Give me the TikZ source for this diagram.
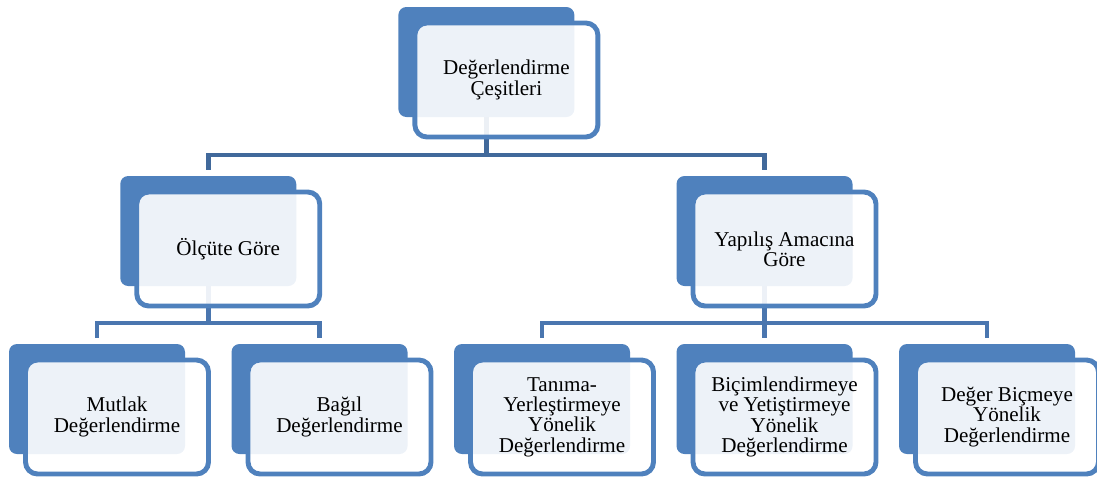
\documentclass[tikz,border=0pt]{standalone}
\usepackage{fontspec}
\setmainfont{Liberation Serif}
\usepackage{xcolor}
\usepackage{tikz}
\usetikzlibrary{positioning,calc,backgrounds}
\definecolor{degblue}{HTML}{4F81BD}
\definecolor{deglink}{HTML}{4A76AF}
\definecolor{deglinkdark}{HTML}{41699B}

\begin{document}
\begin{tikzpicture}[
    back/.style={rectangle, rounded corners=2mm, fill=degblue, minimum width=4.4cm, minimum height=2.75cm, inner sep=0pt, outer sep=0pt},
    front/.style={rectangle, rounded corners=3mm, draw=degblue, line width=3.5pt, fill=white, fill opacity=0.9, text opacity=1, minimum width=4.575cm, minimum height=2.85cm, align=center, inner sep=2pt, font=\fontsize{15}{14.5}\selectfont},
    link/.style={line width=3.5pt, draw=deglink},
    linktop/.style={line width=3.5pt, draw=deglinkdark}
]
    \useasboundingbox (0,0) rectangle (27.425,-11.975);

    % Bottom row (back plates)
    \node (mutlakB) [back] at (2.425,-9.975) {};
    \node (bagilB) [back, right=1.1625cm of mutlakB] {};
    \node (tanimaB) [back, right=1.1625cm of bagilB] {};
    \node (bicimB) [back, right=1.1625cm of tanimaB] {};
    \node (degerB) [back, right=1.1625cm of bicimB] {};

    % Middle row (back plates)
    \node (olcutB) [back, anchor=south] at ($(mutlakB.north)!0.5!(bagilB.north)+(0,1.45)$) {};
    \node (amacB) [back, above=1.45cm of bicimB] {};

    % Top (back plate)
    \node (cesitB) [back, anchor=south] at ($(olcutB.north)!0.5!(amacB.north)+(0,1.475)$) {};

    % Front frames with text
    \node (cesit) [front] at ($(cesitB)+(0.5,-0.45)$) {Değerlendirme\\Çeşitleri};
    \node (olcut) [front] at ($(olcutB)+(0.5,-0.45)$) {Ölçüte Göre};
    \node (amac) [front] at ($(amacB)+(0.5,-0.45)$) {Yapılış Amacına\\Göre};
    \node (mutlak) [front] at ($(mutlakB)+(0.5,-0.45)$) {Mutlak\\Değerlendirme};
    \node (bagil) [front] at ($(bagilB)+(0.5,-0.45)$) {Bağıl\\Değerlendirme};
    \node (tanima) [front] at ($(tanimaB)+(0.5,-0.45)$) {Tanıma-\\Yerleştirmeye\\Yönelik\\Değerlendirme};
    \node (bicim) [front] at ($(bicimB)+(0.5,-0.45)$) {Biçimlendirmeye\\ve Yetiştirmeye\\Yönelik\\Değerlendirme};
    \node (deger) [front] at ($(degerB)+(0.5,-0.45)$) {Değer Biçmeye\\Yönelik\\Değerlendirme};

    % Connectors, behind everything
    \begin{scope}[on background layer]
        \draw[linktop] (cesitB.center) |- ($(olcutB.north)+(0,0.525)$) -- ($(olcutB.north)+(0,0.15)$);
        \draw[linktop] (cesitB.center) |- ($(amacB.north)+(0,0.525)$) -- ($(amacB.north)+(0,0.15)$);
        \draw[link] (olcutB.center) |- ($(mutlakB.north)+(0,0.525)$) -- ($(mutlakB.north)+(0,0.15)$);
        \draw[link] (olcutB.center) |- ($(bagilB.north)+(0,0.525)$) -- ($(bagilB.north)+(0,0.15)$);
        \draw[link] (amacB.center) |- ($(tanimaB.north)+(0,0.525)$) -- ($(tanimaB.north)+(0,0.15)$);
        \draw[link] (amacB.center) -- ($(bicimB.north)+(0,0.15)$);
        \draw[link] (amacB.center) |- ($(degerB.north)+(0,0.525)$) -- ($(degerB.north)+(0,0.15)$);
    \end{scope}
\end{tikzpicture}
\end{document}
